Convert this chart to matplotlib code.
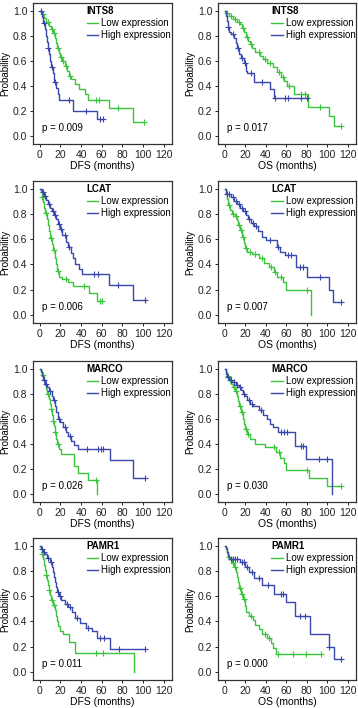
import numpy as np
import matplotlib
matplotlib.use('Agg')
import matplotlib.pyplot as plt

plt.rcParams['font.family'] = ['Liberation Sans', 'DejaVu Sans']
plt.rcParams['font.size'] = 7

GREEN = '#3cc43c'
BLUE = '#3848ad'

genes = ['INTS8', 'LCAT', 'MARCO', 'PAMR1']
endpoints = ['DFS', 'OS']
pvals = {('INTS8', 'DFS'): '0.009', ('INTS8', 'OS'): '0.017',
         ('LCAT', 'DFS'): '0.006', ('LCAT', 'OS'): '0.007',
         ('MARCO', 'DFS'): '0.026', ('MARCO', 'OS'): '0.030',
         ('PAMR1', 'DFS'): '0.011', ('PAMR1', 'OS'): '0.000'}

# curves: event times, survival after each event, last follow-up, censor times
# INTS8 DFS
ints8_dfs_low_t = [2, 4, 6, 9, 11, 13, 15, 16, 17, 19, 20, 22, 24, 26, 28, 30, 34, 38, 44, 47, 67, 90]
ints8_dfs_low_s = [0.97, 0.94, 0.91, 0.88, 0.85, 0.82, 0.78, 0.74, 0.70, 0.66, 0.63, 0.60, 0.56, 0.52,
                   0.48, 0.45, 0.41, 0.37, 0.33, 0.29, 0.22, 0.11]
ints8_dfs_low_end = 101
ints8_dfs_low_c = [3, 8, 12, 14, 18, 21, 23, 25, 29, 54, 57, 76, 101]
ints8_dfs_high_t = [2, 3, 5, 6, 7, 8, 9, 10, 11, 13, 14, 16, 18, 19, 32, 55]
ints8_dfs_high_s = [0.95, 0.90, 0.85, 0.80, 0.75, 0.70, 0.65, 0.60, 0.55, 0.50, 0.43, 0.38, 0.33, 0.29, 0.20, 0.135]
ints8_dfs_high_end = 61
ints8_dfs_high_c = [1, 4, 8, 12, 15, 28, 45, 58, 61]

# INTS8 OS
ints8_os_low_t = [1, 4, 8, 12, 15, 17, 19, 21, 23, 25, 27, 30, 34, 37, 41, 47, 51, 55, 58, 61, 68, 81, 102, 107]
ints8_os_low_s = [0.98, 0.96, 0.93, 0.91, 0.89, 0.86, 0.83, 0.79, 0.76, 0.73, 0.70, 0.67, 0.64, 0.61,
                  0.58, 0.55, 0.51, 0.47, 0.44, 0.40, 0.33, 0.23, 0.16, 0.08]
ints8_os_low_end = 113
ints8_os_low_c = [2, 6, 10, 14, 18, 22, 26, 33, 39, 44, 53, 57, 63, 74, 78, 93, 113]
ints8_os_high_t = [1, 2, 3, 4, 6, 9, 11, 12, 14, 16, 19, 21, 22, 29, 44, 48]
ints8_os_high_s = [0.96, 0.92, 0.87, 0.83, 0.81, 0.78, 0.74, 0.70, 0.65, 0.62, 0.58, 0.52, 0.50,
                   0.43, 0.37, 0.30]
ints8_os_high_end = 80
ints8_os_high_c = [3, 8, 13, 17, 20, 26, 36, 49, 59, 62, 74, 80]

# LCAT DFS
lcat_dfs_low_t = [1, 2, 3, 4, 5, 7, 8, 9, 10, 12, 13, 15, 16, 17, 19, 22, 27, 32, 48, 55]
lcat_dfs_low_s = [0.97, 0.93, 0.89, 0.85, 0.81, 0.76, 0.71, 0.66, 0.61, 0.56, 0.51, 0.45, 0.40,
                  0.35, 0.30, 0.28, 0.26, 0.23, 0.17, 0.11]
lcat_dfs_low_end = 60
lcat_dfs_low_c = [2, 6, 11, 14, 18, 25, 43, 58, 60]
lcat_dfs_high_t = [2, 4, 6, 8, 10, 12, 14, 16, 18, 20, 22, 25, 27, 30, 32, 34, 38, 41, 67, 90]
lcat_dfs_high_s = [0.97, 0.94, 0.91, 0.88, 0.85, 0.82, 0.79, 0.76, 0.72, 0.68, 0.63, 0.58, 0.54,
                   0.49, 0.45, 0.40, 0.36, 0.32, 0.24, 0.12]
lcat_dfs_high_end = 102
lcat_dfs_high_c = [3, 5, 9, 13, 15, 19, 21, 24, 28, 53, 56, 76, 102]

# LCAT OS
lcat_os_low_t = [1, 2, 3, 5, 7, 10, 12, 13, 15, 17, 19, 20, 22, 27, 33, 38, 43, 48, 51, 57, 60, 84]
lcat_os_low_s = [0.96, 0.92, 0.87, 0.83, 0.80, 0.78, 0.75, 0.71, 0.67, 0.62, 0.57, 0.53, 0.50,
                 0.48, 0.45, 0.41, 0.38, 0.34, 0.30, 0.26, 0.20, 0.0]
lcat_os_low_end = 84
lcat_os_low_c = [4, 8, 11, 14, 16, 18, 21, 25, 30, 36, 45, 49, 55, 80]
lcat_os_high_t = [1, 6, 9, 12, 15, 18, 21, 23, 26, 29, 32, 36, 40, 51, 54, 59, 70, 80, 102, 106]
lcat_os_high_s = [0.96, 0.93, 0.90, 0.88, 0.85, 0.82, 0.79, 0.76, 0.73, 0.70, 0.66, 0.62, 0.59,
                  0.54, 0.50, 0.47, 0.38, 0.30, 0.20, 0.10]
lcat_os_high_end = 113
lcat_os_high_c = [2, 4, 8, 11, 14, 17, 20, 24, 28, 31, 44, 52, 62, 65, 73, 76, 93, 113]

# MARCO DFS
marco_dfs_low_t = [1, 2, 4, 5, 6, 7, 9, 10, 11, 12, 13, 14, 15, 16, 17, 19, 21, 33, 37, 47, 55]
marco_dfs_low_s = [0.98, 0.95, 0.91, 0.87, 0.84, 0.80, 0.76, 0.72, 0.68, 0.63, 0.58, 0.54, 0.49,
                   0.44, 0.40, 0.36, 0.32, 0.22, 0.17, 0.11, 0.0]
marco_dfs_low_end = 55
marco_dfs_low_c = [3, 8, 11, 13, 15, 18, 54]
marco_dfs_high_t = [1, 2, 3, 5, 7, 9, 12, 13, 15, 16, 18, 20, 23, 25, 27, 30, 33, 37, 68, 90]
marco_dfs_high_s = [0.97, 0.94, 0.91, 0.88, 0.85, 0.82, 0.78, 0.75, 0.70, 0.65, 0.60, 0.57, 0.53,
                    0.49, 0.46, 0.42, 0.39, 0.36, 0.27, 0.13]
marco_dfs_high_end = 102
marco_dfs_high_c = [4, 6, 10, 14, 19, 24, 29, 46, 56, 59, 61, 102]

# MARCO OS
marco_os_low_t = [1, 2, 4, 6, 8, 10, 12, 13, 14, 16, 18, 19, 20, 22, 25, 30, 39, 50, 54, 58, 60, 82, 100]
marco_os_low_s = [0.97, 0.94, 0.91, 0.88, 0.85, 0.82, 0.78, 0.74, 0.70, 0.65, 0.60, 0.56, 0.52,
                  0.48, 0.44, 0.40, 0.37, 0.33, 0.29, 0.25, 0.19, 0.13, 0.06]
marco_os_low_end = 113
marco_os_low_c = [3, 5, 9, 11, 15, 17, 21, 23, 48, 53, 80, 113]
marco_os_high_t = [1, 2, 4, 7, 11, 14, 16, 18, 20, 22, 25, 28, 33, 37, 41, 44, 47, 52, 69, 79, 105]
marco_os_high_s = [0.96, 0.93, 0.91, 0.89, 0.87, 0.85, 0.83, 0.80, 0.78, 0.75, 0.72, 0.70, 0.67,
                   0.63, 0.60, 0.56, 0.53, 0.49, 0.38, 0.28, 0.0]
marco_os_high_end = 105
marco_os_high_c = [3, 6, 9, 12, 15, 19, 24, 27, 35, 55, 58, 61, 74, 76, 92, 100]

# PAMR1 DFS
pamr1_dfs_low_t = [1, 2, 3, 4, 5, 6, 7, 8, 9, 10, 11, 13, 15, 16, 17, 18, 20, 23, 28, 34, 91]
pamr1_dfs_low_s = [0.97, 0.93, 0.89, 0.85, 0.81, 0.77, 0.73, 0.69, 0.65, 0.61, 0.57, 0.53, 0.49,
                   0.44, 0.40, 0.36, 0.32, 0.30, 0.24, 0.15, 0.0]
pamr1_dfs_low_end = 91
pamr1_dfs_low_c = [2, 6, 9, 12, 14, 54, 61]
pamr1_dfs_high_t = [1, 3, 5, 7, 10, 12, 13, 14, 15, 16, 17, 19, 21, 24, 27, 31, 34, 39, 45, 51, 55, 68]
pamr1_dfs_high_s = [0.97, 0.95, 0.93, 0.90, 0.87, 0.83, 0.79, 0.75, 0.71, 0.67, 0.63, 0.60, 0.57,
                    0.54, 0.51, 0.47, 0.43, 0.39, 0.35, 0.32, 0.27, 0.18]
pamr1_dfs_high_end = 102
pamr1_dfs_high_c = [2, 4, 8, 11, 18, 20, 26, 29, 36, 47, 58, 62, 77, 102]

# PAMR1 OS
pamr1_os_low_t = [1, 2, 3, 5, 7, 9, 11, 12, 13, 14, 16, 18, 20, 21, 24, 28, 30, 33, 36, 41, 45, 47, 50]
pamr1_os_low_s = [0.97, 0.94, 0.91, 0.89, 0.86, 0.83, 0.79, 0.75, 0.71, 0.66, 0.62, 0.58, 0.52,
                  0.47, 0.44, 0.41, 0.37, 0.34, 0.30, 0.27, 0.23, 0.19, 0.14]
pamr1_os_low_end = 94
pamr1_os_low_c = [4, 8, 10, 15, 17, 19, 26, 39, 43, 52, 67, 79, 94]
pamr1_os_high_t = [1, 2, 3, 4, 15, 20, 24, 29, 36, 48, 60, 69, 83, 102, 107]
pamr1_os_high_s = [0.98, 0.95, 0.92, 0.89, 0.87, 0.83, 0.79, 0.74, 0.69, 0.62, 0.55, 0.44, 0.30,
                   0.20, 0.10]
pamr1_os_high_end = 113
pamr1_os_high_c = [6, 8, 10, 12, 17, 19, 22, 27, 33, 42, 55, 57, 73, 78, 102, 113]

g = globals()

# axes boxes in pixels (left, top, right, bottom)
col_x = [(33, 172), (218, 356)]
row_y = [(3, 144), (181, 323), (361, 502), (538, 680)]
W, H = 358, 708

fig = plt.figure(figsize=(W / 100, H / 100), dpi=100)


def km_curve(ax, t, s, end, cens, color, label):
    xs = np.concatenate([[0], t, [end]])
    ys = np.concatenate([[1.0], s, [s[-1]]])
    ax.step(xs, ys, where='post', color=color, lw=1.0, label=label)
    cens = np.array(cens, dtype=float)
    idx = np.searchsorted(np.array(t, dtype=float), cens, side='right')
    cy = np.concatenate([[1.0], s])[idx]
    ax.plot(cens, cy, ls='none', marker='+', ms=4, mew=0.8, color=color)


for r, gene in enumerate(genes):
    for c, ep in enumerate(endpoints):
        x0, x1 = col_x[c]
        y0, y1 = row_y[r]
        ax = fig.add_axes([x0 / W, 1 - y1 / H, (x1 - x0) / W, (y1 - y0) / H])
        key = f'{gene.lower()}_{ep.lower()}'
        km_curve(ax, g[key + '_low_t'], g[key + '_low_s'], g[key + '_low_end'],
                 g[key + '_low_c'], GREEN, 'Low expression')
        km_curve(ax, g[key + '_high_t'], g[key + '_high_s'], g[key + '_high_end'],
                 g[key + '_high_c'], BLUE, 'High expression')
        ax.set_xlim(-6.5, 128)
        ax.set_ylim(-0.065, 1.06)
        ax.set_xticks(np.arange(0, 121, 20))
        ax.set_yticks(np.arange(0, 1.01, 0.2))
        ax.set_yticklabels([f'{v:.1f}' for v in np.arange(0, 1.01, 0.2)])
        ax.tick_params(labelsize=7.5, length=2.5, width=0.7, pad=1.5, colors='#222222')
        for sp in ax.spines.values():
            sp.set_linewidth(0.9)
            sp.set_color('#333333')
        ax.set_xlabel(f'{ep} (months)', fontsize=7.5, labelpad=1)
        ax.set_ylabel('Probability', fontsize=7, labelpad=2)
        ax.text(0.065, 0.11, f'p = {pvals[(gene, ep)]}', transform=ax.transAxes,
                fontsize=7, va='center', ha='left')
        leg = ax.legend(title=gene, loc='upper left', bbox_to_anchor=(0.38, 0.985),
                        frameon=False, fontsize=7, handlelength=1.2, handletextpad=0.3,
                        labelspacing=0.2, borderpad=0.1, borderaxespad=0,
                        alignment='left',
                        title_fontproperties={'weight': 'bold', 'size': 7})

fig.savefig('out.png', dpi=100)
